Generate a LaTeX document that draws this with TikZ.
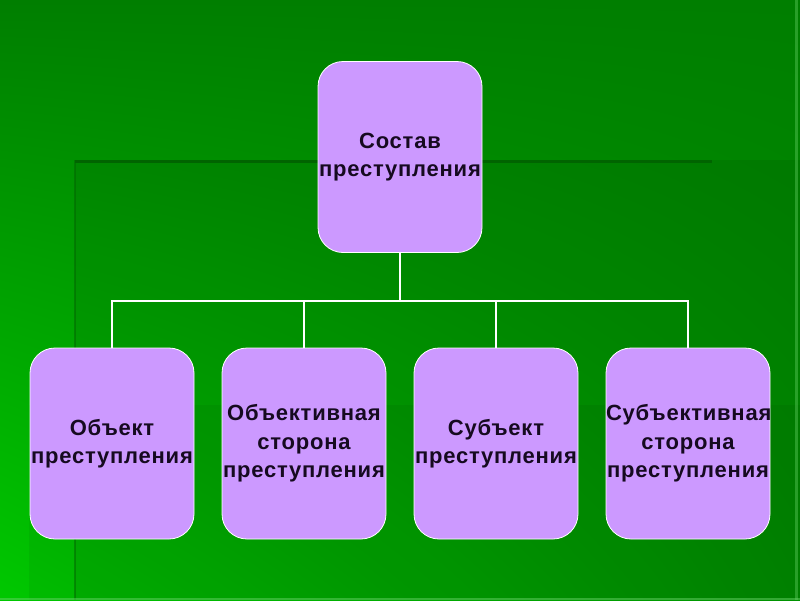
\documentclass[tikz,border=0pt]{standalone}
\usepackage{fontspec}
\setmainfont[LetterSpace=3.5]{Liberation Sans}
\usetikzlibrary{trees,positioning,calc,shadings}

\definecolor{bgTL}{HTML}{007E00}
\definecolor{bgTR}{HTML}{007E00}
\definecolor{bgBL}{HTML}{00C800}
\definecolor{bgBR}{HTML}{009200}
\definecolor{boxFill}{HTML}{CC99FF}
\definecolor{boxText}{HTML}{160A20}
\definecolor{frameDark}{HTML}{006400}

\begin{document}
\begin{tikzpicture}[x=1pt, y=1pt,
		grow=down, level distance=286.5pt, sibling distance=192pt,
		every node/.style={align=center},
		termBox/.style={
				draw=white, line width=0.8pt, fill=boxFill,
				rounded corners=25pt,
				text width=164pt, minimum height=191pt,
				inner sep=0pt, text=boxText,
				font=\bfseries\fontsize{22}{28.5}\selectfont
			},
		forkEdge/.style={
				edge from parent path={(\tikzparentnode.south) -- ++(0,-48pt) -| (\tikzchildnode.north)}
			},
		edge from parent/.style={draw=white, line width=1.3pt}
	]

	% Background
	\useasboundingbox (0,0) rectangle (800,-600);
	\shade[upper left=bgTL, upper right=bgTR, lower left=bgBL, lower right=bgBR] (0,0) rectangle (800,-600);
	\fill[black, opacity=0.07] (75,-160) rectangle (800,-600);
	\fill[black, opacity=0.05] (29,-405) rectangle (800,-600);
	\draw[frameDark, line width=3pt] (75,-161) -- (712,-161);
	\draw[frameDark, opacity=0.5, line width=2pt] (75,-160) -- (75,-600);
	\draw[green!70!black!60!white, opacity=0.5, line width=2pt] (0,-599) -- (800,-599);
	\draw[green!70!black!60!white, opacity=0.4, line width=3pt] (796,0) -- (796,-600);

	% Tree
	\node[termBox] (root) at (400,-157) {Состав\\преступления}
	[forkEdge]
	child {node[termBox] (obj) {Объект\\преступления}}
	child {node[termBox] (objSide) {Объективная\\сторона\\преступления}}
	child {node[termBox] (subj) {Субъект\\преступления}}
	child {node[termBox] (subjSide) {Субъективная\\сторона\\преступления}};
\end{tikzpicture}
\end{document}
